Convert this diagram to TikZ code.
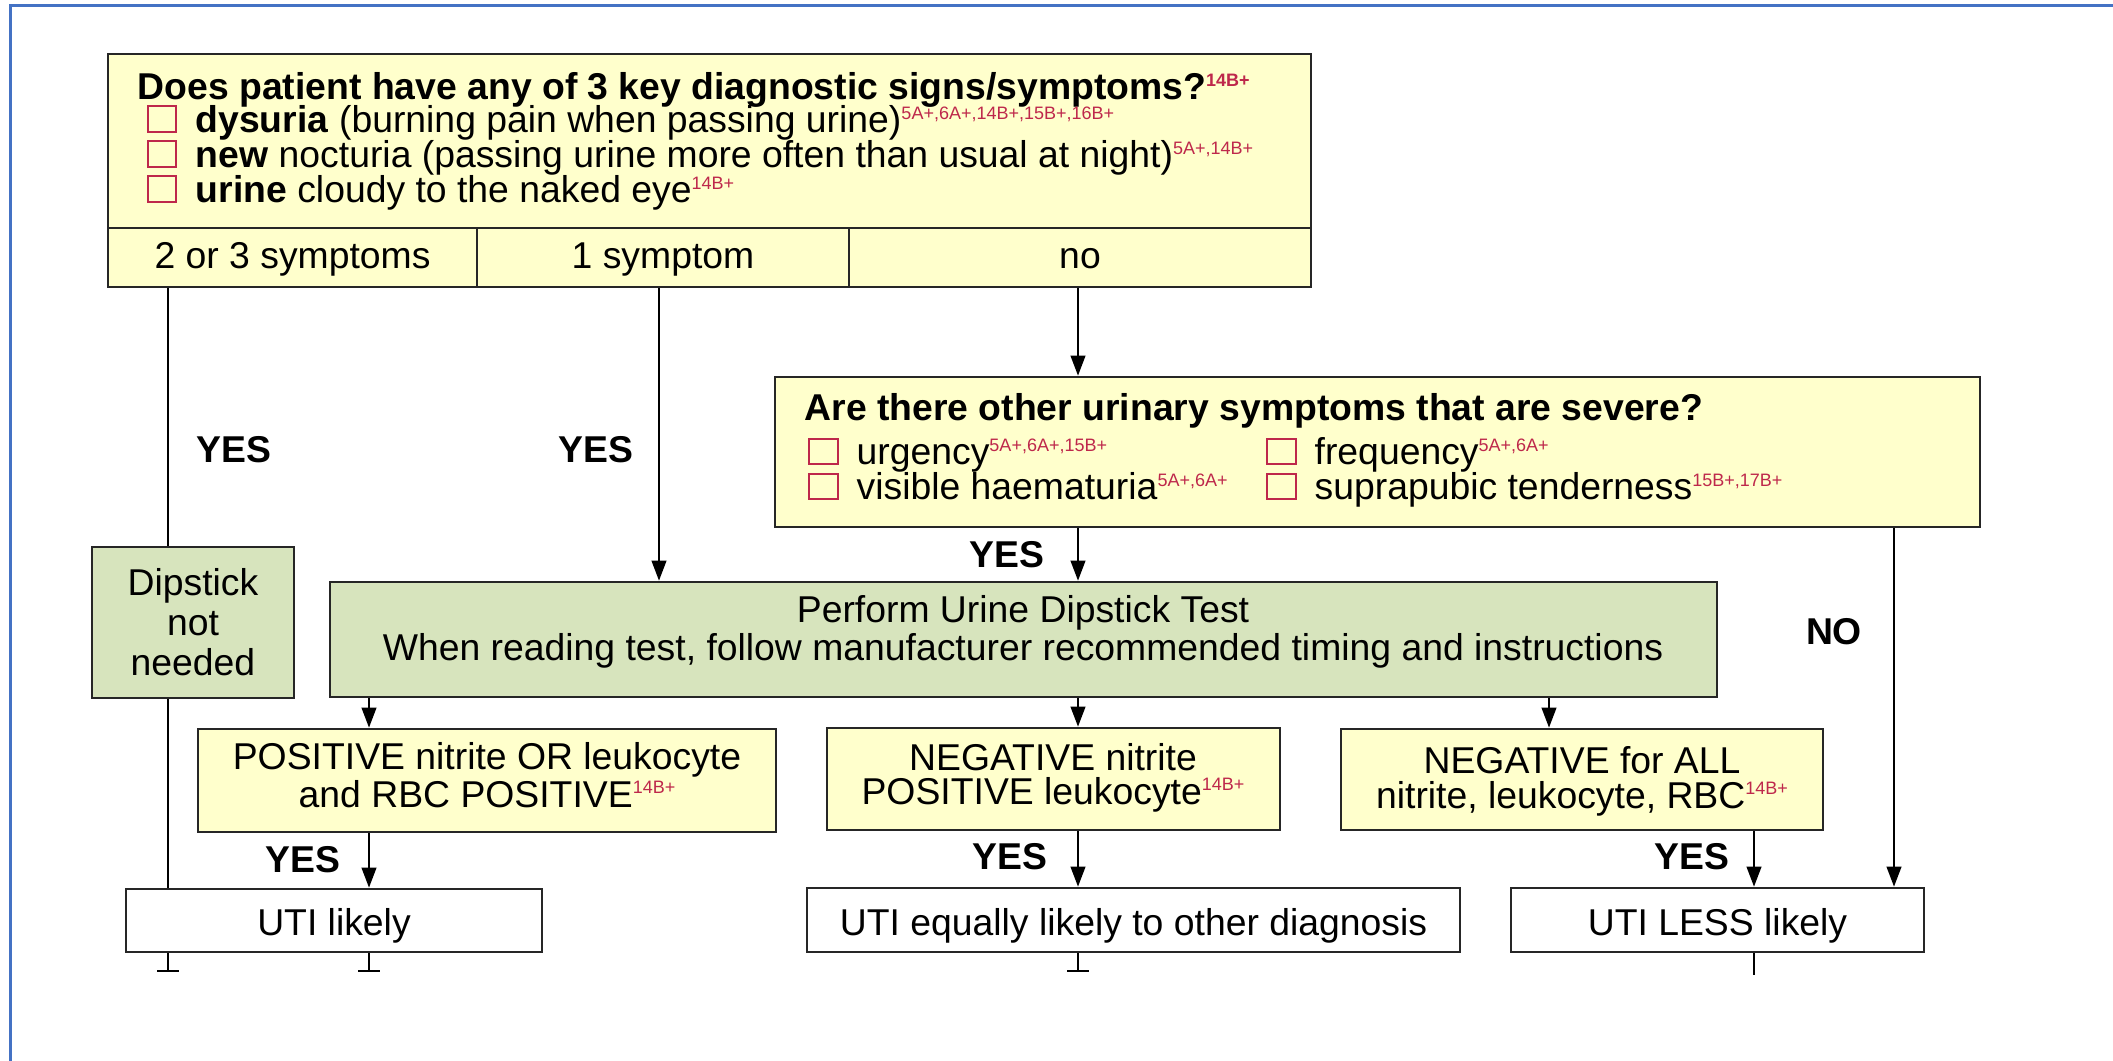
\documentclass[tikz,border=0pt]{standalone}
\usepackage{fontspec}
\setmainfont{Liberation Sans}
\usetikzlibrary{arrows.meta}
\definecolor{ybg}{RGB}{255,255,204}
\definecolor{gbg}{RGB}{215,228,189}
\definecolor{refred}{RGB}{190,40,75}
\definecolor{frameblue}{RGB}{68,114,196}
\newcommand\bodyfont{\fontsize{11.2}{13}\selectfont}
\newcommand\rf[1]{\raisebox{4.1pt}{\fontsize{5.4}{6}\selectfont\color{refred}#1}}
\begin{document}
\begin{tikzpicture}[x=0.3pt,y=-0.3pt,
  box/.style={draw=black!85, line width=0.8pt, inner sep=0pt, align=center, font=\bodyfont},
  one/.style={text height=8.3pt, text depth=1.9pt},
  onelow/.style={text height=9.6pt, text depth=0.4pt},
  ybox/.style={box, fill=ybg},
  gbox/.style={box, fill=gbg},
  wbox/.style={box, fill=white},
  txt/.style={inner sep=0pt, font=\bodyfont},
  lbl/.style={inner sep=0pt, font={\bodyfont\bfseries}},
  conn/.style={line width=0.6pt, black},
  arr/.style={conn, -{Triangle[length=6pt,width=4.4pt]}},
  stub/.style={conn, -{Bar[width=6.5pt,line width=0.5pt]}},
  chk/.style={draw=refred, line width=0.6pt},
]
\useasboundingbox (0,0) rectangle (2113,1061);
\fill[white] (0,0) rectangle (2113,1061);
\draw[frameblue, line width=0.9pt] (10,1061) -- (10,6) -- (2113,6);

% ---------- top question box ----------
\node[ybox, minimum width=360.9pt, minimum height=52.2pt] (q1) at (709.5,141) {};
\node[ybox, one, minimum width=110.7pt, minimum height=17.7pt] (c1) at (292.5,257.5) {2 or 3 symptoms};
\node[ybox, one, minimum width=111.6pt, minimum height=17.7pt] (c2) at (663,257.5) {1 symptom};
\node[ybox, one, minimum width=138.6pt, minimum height=17.7pt] (c3) at (1080,257.5) {no};
\node[lbl, anchor=base west] (q1t) at (137,100) {Does patient have any of 3 key diagnostic signs/symptoms?\rf{14B+}};
\node[txt, anchor=base west] (q1a) at (195,133) {\textbf{dysuria} (burning pain when passing urine)\rf{5A+,6A+,14B+,15B+,16B+}};
\node[txt, anchor=base west] (q1b) at (195,168) {\textbf{new} nocturia (passing urine more often than usual at night)\rf{5A+,14B+}};
\node[txt, anchor=base west] (q1c) at (195,203) {\textbf{urine} cloudy to the naked eye\rf{14B+}};
\draw[chk] (148,106) rectangle (176,132);
\draw[chk] (148,141) rectangle (176,167);
\draw[chk] (148,176) rectangle (176,202);

% ---------- other urinary symptoms ----------
\node[ybox, minimum width=361.5pt, minimum height=45pt] (are) at (1377.5,452) {};
\node[lbl, anchor=base west] (aret) at (804,421) {Are there other urinary symptoms that are severe?};
\node[txt, anchor=base west] (area) at (856,465) {urgency\rf{5A+,6A+,15B+}};
\node[txt, anchor=base west] (areb) at (856,500) {visible haematuria\rf{5A+,6A+}};
\node[txt, anchor=base west] (arec) at (1314,465) {frequency\rf{5A+,6A+}};
\node[txt, anchor=base west] (ared) at (1314,500) {suprapubic tenderness\rf{15B+,17B+}};
\draw[chk] (809,439) rectangle (838,464);
\draw[chk] (809,474) rectangle (838,499);
\draw[chk] (1267,439) rectangle (1296,464);
\draw[chk] (1267,474) rectangle (1296,499);

% ---------- green boxes ----------
\node[gbox, minimum width=60.6pt, minimum height=45.3pt, font={\fontsize{11.2}{12}\selectfont}] (dip) at (193,622.5) {Dipstick\\not\\needed};
\node[gbox, minimum width=416.1pt, minimum height=34.5pt] (perf) at (1023.5,639.5) {};
\node[txt, align=center, font={\fontsize{11.2}{11.4}\selectfont}] (perft) at (1023,632)
  {Perform Urine Dipstick Test\\When reading test, follow manufacturer recommended timing and instructions};

% ---------- result boxes ----------
\node[ybox, minimum width=173.4pt, minimum height=30.9pt] (pos) at (487,780.5) {};
\node[txt, align=center, font={\fontsize{11.2}{9.9}\selectfont}] (post) at (487,775)
  {POSITIVE nitrite OR leukocyte\\and RBC POSITIVE\rf{14B+}};
\node[ybox, minimum width=135.9pt, minimum height=30.6pt] (negn) at (1053.5,779) {};
\node[txt, align=center, font={\fontsize{11.2}{10.2}\selectfont}] (negnt) at (1053,778)
  {NEGATIVE nitrite\\POSITIVE leukocyte\rf{14B+}};
\node[ybox, minimum width=144.6pt, minimum height=30.3pt] (nega) at (1582,779.5) {};
\node[txt, align=center, font={\fontsize{11.2}{10.5}\selectfont}] (negat) at (1582,781)
  {NEGATIVE for ALL\\nitrite, leukocyte, RBC\rf{14B+}};

% ---------- outcome boxes ----------
\node[wbox, onelow, minimum width=124.8pt, minimum height=18.9pt] (uti1) at (334,920.5) {UTI likely};
\node[wbox, onelow, minimum width=195.9pt, minimum height=19.2pt] (uti2) at (1133.5,920) {UTI equally likely to other diagnosis};
\node[wbox, onelow, minimum width=123.9pt, minimum height=19.2pt] (uti3) at (1717.5,920) {UTI LESS likely};

% ---------- labels ----------
\node[lbl] (y1) at (234,450) {YES};
\node[lbl] (y2) at (596,450) {YES};
\node[lbl] (y3) at (1007,555) {YES};
\node[lbl] (n1) at (1834,632) {NO};
\node[lbl] (y4) at (303,860) {YES};
\node[lbl] (y5) at (1010,857) {YES};
\node[lbl] (y6) at (1692,857) {YES};

% ---------- column coordinates ----------
\coordinate (xA) at (168,0);
\coordinate (xB) at (659,0);
\coordinate (xC) at (1078,0);
\coordinate (xD) at (1894,0);
\coordinate (xE) at (369,0);
\coordinate (xF) at (1549,0);
\coordinate (xG) at (1754,0);
\coordinate (eA) at (168,972);
\coordinate (eE) at (369,972);
\coordinate (eC) at (1078,972);
\coordinate (eG) at (1754,975);

% ---------- connectors ----------
\draw[conn] (c1.south -| xA) -- (dip.north -| xA);
\draw[conn] (dip.south -| xA) -- (uti1.north -| xA);
\draw[arr] (c2.south -| xB) -- (perf.north -| xB);
\draw[arr] (c3.south -| xC) -- (are.north -| xC);
\draw[arr] (are.south -| xC) -- (perf.north -| xC);
\draw[arr] (are.south -| xD) -- (uti3.north -| xD);
\draw[arr] (perf.south -| xE) -- (pos.north -| xE);
\draw[arr] (perf.south -| xC) -- (negn.north -| xC);
\draw[arr] (perf.south -| xF) -- (nega.north -| xF);
\draw[arr] (pos.south -| xE) -- (uti1.north -| xE);
\draw[arr] (negn.south -| xC) -- (uti2.north -| xC);
\draw[arr] (nega.south -| xG) -- (uti3.north -| xG);
\draw[stub] (uti1.south -| xA) -- (eA);
\draw[stub] (uti1.south -| xE) -- (eE);
\draw[stub] (uti2.south -| xC) -- (eC);
\draw[conn] (uti3.south -| xG) -- (eG);
\end{tikzpicture}
\end{document}
